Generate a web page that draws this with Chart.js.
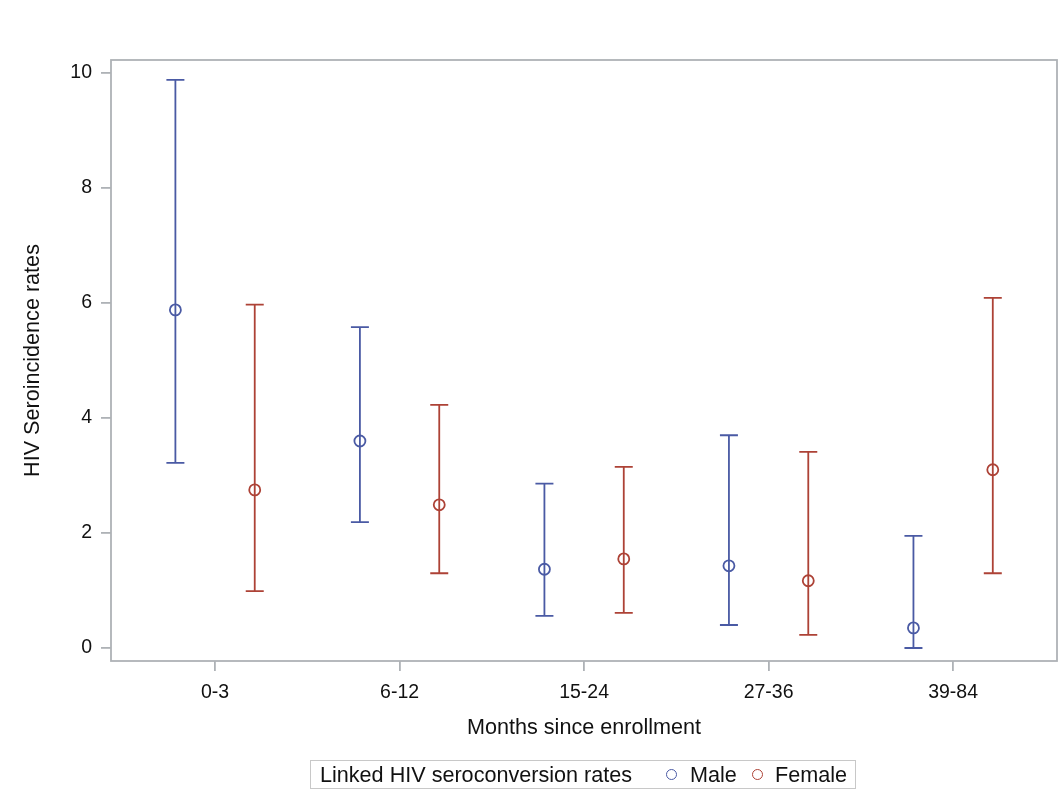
<!DOCTYPE html>
<html>
<head>
<meta charset="utf-8">
<script src="https://cdn.jsdelivr.net/npm/chart.js@4/dist/chart.umd.min.js"></script>
<style>
  body { margin: 0; background: #fff; overflow: hidden; }
  #wrap { position: relative; width: 1060px; height: 801px; }
  canvas { display: block; }
  #legend {
    position: absolute; left: 310px; top: 760px; width: 544px; height: 27px;
    border: 1px solid #c8c8c8; font-family: "Liberation Sans", Arial, sans-serif;
    font-size: 21.6px; line-height: 27px; color: #111; white-space: nowrap;
  }
  #legend span { position: absolute; top: 0; }
  #legend .mk { top: 8px; width: 9px; height: 9px; border-radius: 50%; border: 1.8px solid; }
</style>
</head>
<body>
<div id="wrap">
  <canvas id="seroChart" width="1060" height="801"></canvas>
  <div id="legend">
    <span style="left:9px">Linked HIV seroconversion rates</span>
    <span class="mk" style="left:355px;border-color:#4a5aa4"></span>
    <span style="left:379px">Male</span>
    <span class="mk" style="left:441px;border-color:#ad4236"></span>
    <span style="left:464px">Female</span>
  </div>
</div>
<script>
var categories = ['0-3', '6-12', '15-24', '27-36', '39-84'];
var maleRate  = [5.88, 3.60, 1.37, 1.43, 0.35];
var maleLower = [3.22, 2.19, 0.56, 0.40, 0.00];
var maleUpper = [9.88, 5.58, 2.86, 3.70, 1.95];
var femaleRate  = [2.75, 2.49, 1.55, 1.17, 3.10];
var femaleLower = [0.99, 1.30, 0.61, 0.23, 1.30];
var femaleUpper = [5.97, 4.23, 3.15, 3.41, 6.09];
var yTicks = [0, 2, 4, 6, 8, 10];

var frameColor = '#aeb2b6';
var font = 'Liberation Sans, Arial, sans-serif';

function points(vals, shift) {
    return vals.map(function(v, i) { return { x: i + shift, y: v }; });
}

// whiskers with caps, drawn under the open circles
var errorBars = {
    id: 'errorBars',
    beforeDatasetsDraw: function(chart) {
        var ctx = chart.ctx;
        var xs = chart.scales.x, ys = chart.scales.y;
        chart.data.datasets.forEach(function(ds) {
            ctx.save();
            ctx.strokeStyle = ds.borderColor;
            ctx.lineWidth = 1.8;
            ds.data.forEach(function(p, i) {
                var px = xs.getPixelForValue(p.x);
                var lo = ys.getPixelForValue(ds.lower[i]);
                var hi = ys.getPixelForValue(ds.upper[i]);
                ctx.beginPath();
                ctx.moveTo(px, lo); ctx.lineTo(px, hi);
                ctx.moveTo(px - 9, lo); ctx.lineTo(px + 9, lo);
                ctx.moveTo(px - 9, hi); ctx.lineTo(px + 9, hi);
                ctx.stroke();
            });
            ctx.restore();
        });
    },
    afterDraw: function(chart) {
        var a = chart.chartArea, ctx = chart.ctx;
        ctx.save();
        ctx.strokeStyle = frameColor;
        ctx.lineWidth = 1.8;
        ctx.strokeRect(a.left, a.top, a.right - a.left, a.bottom - a.top);
        ctx.restore();
    }
};

var ctx = document.getElementById('seroChart').getContext('2d');
var chart = new Chart(ctx, {
    type: 'scatter',
    data: {
        datasets: [{
            label: 'Male',
            data: points(maleRate, -0.215),
            lower: maleLower, upper: maleUpper,
            borderColor: '#4a5aa4',
            backgroundColor: 'rgba(0,0,0,0)',
            pointRadius: 5.5, pointBorderWidth: 1.8
        }, {
            label: 'Female',
            data: points(femaleRate, 0.215),
            lower: femaleLower, upper: femaleUpper,
            borderColor: '#ad4236',
            backgroundColor: 'rgba(0,0,0,0)',
            pointRadius: 5.5, pointBorderWidth: 1.8
        }]
    },
    options: {
        responsive: false,
        animation: false,
        layout: { autoPadding: false, padding: { top: 60, right: 3, left: 0, bottom: 60 } },
        plugins: { legend: { display: false }, tooltip: { enabled: false } },
        scales: {
            x: {
                type: 'linear', min: -0.564, max: 4.563,
                afterBuildTicks: function(s) { s.ticks = categories.map(function(c, i) { return { value: i }; }); },
                afterFit: function(s) { s.height = 80; },
                ticks: {
                    color: '#111', padding: 10, maxRotation: 0,
                    font: { family: font, size: 19.5 },
                    callback: function(v) { return categories[v]; }
                },
                grid: { drawOnChartArea: false, drawTicks: true, tickLength: 10, color: frameColor, lineWidth: 1.8 },
                border: { display: false },
                title: { display: true, text: 'Months since enrollment', color: '#111',
                         font: { family: font, size: 21.6 }, padding: { top: 0, bottom: 0 } }
            },
            y: {
                min: -0.226, max: 10.226,
                afterBuildTicks: function(s) { s.ticks = yTicks.map(function(v) { return { value: v }; }); },
                afterFit: function(s) { s.width = 111; },
                ticks: { color: '#111', padding: 9, font: { family: font, size: 19.5 } },
                grid: { drawOnChartArea: false, drawTicks: true, tickLength: 10, color: frameColor, lineWidth: 1.8 },
                border: { display: false },
                title: { display: true, text: 'HIV Seroincidence rates', color: '#111',
                         font: { family: font, size: 21.6 }, padding: { top: 20, bottom: 0 } }
            }
        }
    },
    plugins: [errorBars]
});
</script>
</body>
</html>
